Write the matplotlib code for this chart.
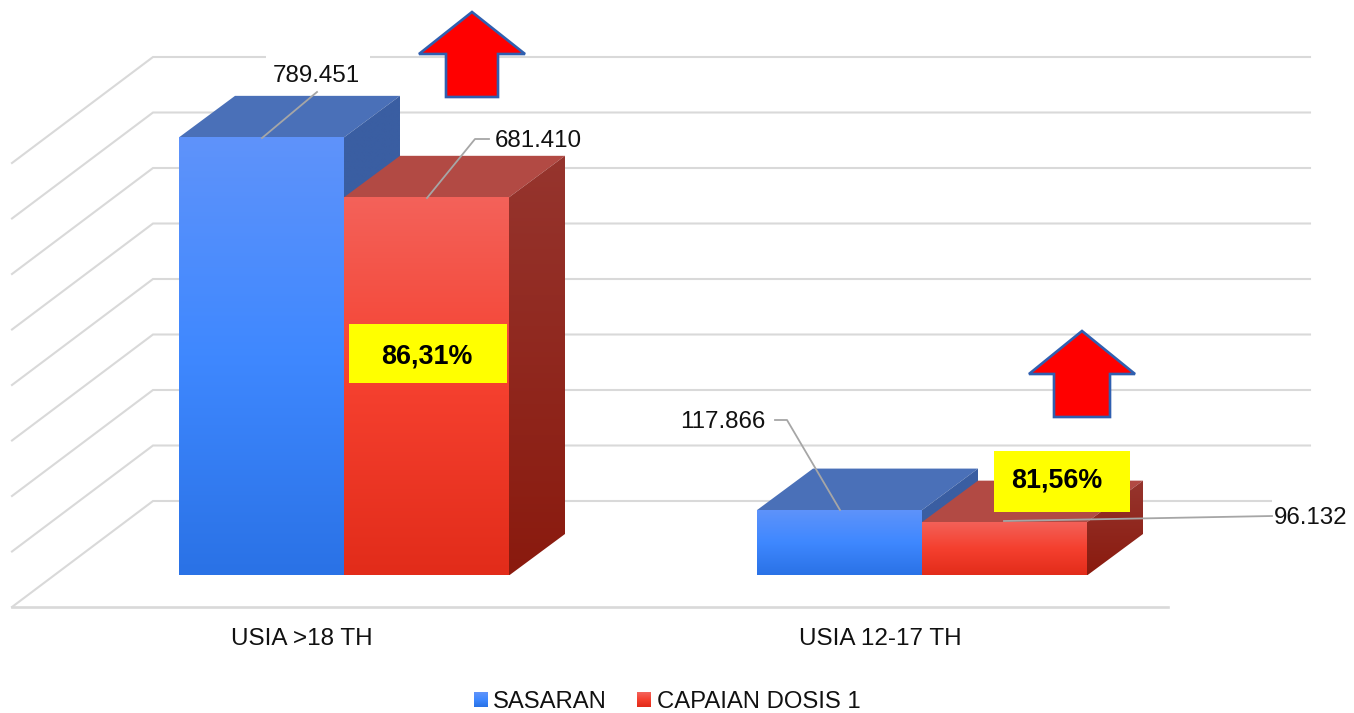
import numpy as np
import matplotlib
matplotlib.use("Agg")
import matplotlib.pyplot as plt
from matplotlib.colors import LinearSegmentedColormap
from matplotlib.patches import Polygon, Patch, Rectangle
from matplotlib.transforms import Affine2D

# ---- data ----
categories = ["USIA >18 TH", "USIA 12-17 TH"]
series_names = ["SASARAN", "CAPAIAN DOSIS 1"]
sasaran = [789451, 117866]
capaian = [681410, 96132]
value_labels_sasaran = ["789.451", "117.866"]
value_labels_capaian = ["681.410", "96.132"]
percent_labels = ["86,31%", "81,56%"]
grid_values = [0, 100000, 200000, 300000, 400000, 500000, 600000, 700000, 800000]

# ---- geometry / style ----
W, H = 1354, 713
PX_PER_VALUE = 55.5 / 100000
PX_PER_CAT = 578.0
BASE_PX = 575.5
FLOOR_PX = 607
CENTER0_PX = 344
BAR_W = 165 / PX_PER_CAT
DX = 56 / PX_PER_CAT
DY = 41.5 / PX_PER_VALUE
WALL_DY = 74.5 / PX_PER_VALUE
GRID_C = "#D9D9D9"
LEAD_C = "#A6A6A6"
FONT = "Liberation Sans"

blue_front = LinearSegmentedColormap.from_list("bf", ["#2A72E6", "#3F88FF", "#5F93FA"])
red_front = LinearSegmentedColormap.from_list("rf", ["#E22C1A", "#F5402F", "#F3625A"])
blue_side = LinearSegmentedColormap.from_list("bs", ["#3A5EA2", "#3A5EA2"])
red_side = LinearSegmentedColormap.from_list("rs", ["#8A1A0E", "#96352E"])
BLUE_TOP, RED_TOP = "#4A70B8", "#B24A44"

fig = plt.figure(figsize=(W / 100, H / 100), dpi=100, facecolor="white")
ax = fig.add_axes([0, (H - FLOOR_PX) / H, 1, FLOOR_PX / H])
for s in ax.spines.values():
    s.set_visible(False)
ax.patch.set_visible(False)

XLIM = (-CENTER0_PX / PX_PER_CAT, (W - CENTER0_PX) / PX_PER_CAT)
YLIM = (-(FLOOR_PX - BASE_PX) / PX_PER_VALUE, BASE_PX / PX_PER_VALUE)
ax.set_xlim(XLIM)
ax.set_ylim(YLIM)

# pixel coordinates (top-left origin) for annotations
px = Affine2D().scale(1, -1).translate(0, H)


def grad_fill(poly_pts, cmap, z):
    poly = Polygon(poly_pts, closed=True, facecolor="none", edgecolor="none", zorder=z)
    ax.add_patch(poly)
    xs, ys = zip(*poly_pts)
    g = np.linspace(0, 1, 256).reshape(-1, 1)
    im = ax.imshow(g, cmap=cmap, origin="lower", aspect="auto", zorder=z,
                   extent=(min(xs), max(xs), min(ys), max(ys)), interpolation="bilinear")
    im.set_clip_path(poly)


def box3d(x0, val, front, side, top, z):
    x1 = x0 + BAR_W
    ax.add_patch(Polygon([(x0, val), (x1, val), (x1 + DX, val + DY), (x0 + DX, val + DY)],
                         closed=True, facecolor=top, edgecolor="none", zorder=z))
    grad_fill([(x1, 0), (x1 + DX, DY), (x1 + DX, val + DY), (x1, val)], side, z)
    ax.bar(x0, val, BAR_W, align="edge", color="none", zorder=z)
    grad_fill([(x0, 0), (x1, 0), (x1, val), (x0, val)], front, z + 0.1)


# grid: back wall, left wall and floor
x_back_l = (153 - CENTER0_PX) / PX_PER_CAT
x_back_r = (1310 - CENTER0_PX) / PX_PER_CAT
x_front_l = (12 - CENTER0_PX) / PX_PER_CAT
x_front_r = (1168 - CENTER0_PX) / PX_PER_CAT
wall_drop = 106 / PX_PER_VALUE
for v in grid_values:
    yb = v + WALL_DY
    ax.plot([x_back_r, x_back_l, x_front_l], [yb, yb, yb - wall_drop],
            color=GRID_C, lw=1.5, zorder=1, solid_joinstyle="miter", clip_on=False)
ax.plot([x_front_l, x_front_r], [YLIM[0]] * 2, color=GRID_C, lw=1.9, zorder=1, clip_on=False)

# bars
for i in range(len(categories)):
    box3d(i - BAR_W, sasaran[i], blue_front, blue_side, BLUE_TOP, 2 + i * 2)
    box3d(i, capaian[i], red_front, red_side, RED_TOP, 3 + i * 2)

ax.set_xlim(XLIM)
ax.set_ylim(YLIM)
ax.set_yticks([])
ax.set_xticks([i - 42 / PX_PER_CAT for i in range(len(categories))], categories,
              fontsize=17.5, fontfamily=FONT, color="#111111")
ax.tick_params(axis="x", length=0, pad=15)

# white label plates, leader lines and value labels
leaders = [
    ([(262, 138), (317, 92)], value_labels_sasaran[0], (316, 76), (266, 54, 104, 36)),
    ([(427, 198), (475, 139), (489, 139)], value_labels_capaian[0], (538, 141), (488, 125, 102, 30)),
    ([(840, 510), (787, 420), (775, 420)], value_labels_sasaran[1], (723, 422), (676, 405, 95, 32)),
    ([(1004, 521), (1272, 516)], value_labels_capaian[1], (1311, 518), (1272, 497, 82, 40)),
]
for pts, lab, (tx, ty), (rx, ry, rw, rh) in leaders:
    ax.add_patch(Rectangle((rx, ry), rw, rh, facecolor="white", edgecolor="none",
                           transform=px, zorder=8, clip_on=False))
    xs, ys = zip(*pts)
    ax.plot(xs, ys, color=LEAD_C, lw=1.3, transform=px, zorder=9, clip_on=False)
    ax.text(tx, ty, lab, transform=px, ha="center", va="center", fontsize=17.4, fontfamily=FONT,
            color="#111111", zorder=9, clip_on=False)

# yellow percent boxes
boxes = [((349, 324), 158, 59, (427, 357)), ((994, 451), 136, 61, (1057, 480))]
for ((bx, by), bw, bh, (tx, ty)), lab in zip(boxes, percent_labels):
    ax.add_patch(Rectangle((bx, by), bw, bh, facecolor="#FFFF00", edgecolor="none",
                           transform=px, zorder=10, clip_on=False))
    ax.text(tx, ty, lab, transform=px, ha="center", va="center", fontsize=19.4, fontweight="bold",
            fontfamily=FONT, color="black", zorder=11)

# red arrows
arrows = [(472, 12, 53, 26, 54, 97), (1082, 331, 53, 28, 374, 417)]
for cx, tip, hw, sw, hy, by in arrows:
    pts = [(cx, tip), (cx + hw, hy), (cx + sw, hy), (cx + sw, by), (cx - sw, by),
           (cx - sw, hy), (cx - hw, hy)]
    ax.add_patch(Polygon(pts, closed=True, facecolor="#FF0000", edgecolor="#2F5FB0", lw=1.9,
                         joinstyle="miter", transform=px, zorder=12, clip_on=False))

# legend
handles = [Patch(facecolor="#3F88FF", label=series_names[0]),
           Patch(facecolor="#F0402F", label=series_names[1])]
leg = fig.legend(handles=handles, ncol=2, loc="center", bbox_to_anchor=(667 / W, (H - 702) / H),
                 frameon=False, prop={"family": FONT, "size": 17.2}, handlelength=0.6, handleheight=0.6,
                 handletextpad=0.22, columnspacing=1.25, borderpad=0, borderaxespad=0, labelcolor="#111111")

# gradient on the legend swatches
fig.canvas.draw()
for h, cmap in zip(leg.get_patches(), [blue_front, red_front]):
    bb = h.get_window_extent()
    n = max(int(round(bb.height)), 1)
    m = max(int(round(bb.width)), 1)
    arr = cmap(np.linspace(1, 0, n))[:, None, :].repeat(m, axis=1)
    fig.figimage(arr, xo=int(round(bb.x0)), yo=int(round(bb.y0)), origin="upper", zorder=20)

fig.savefig("out.png", dpi=100, facecolor="white")
